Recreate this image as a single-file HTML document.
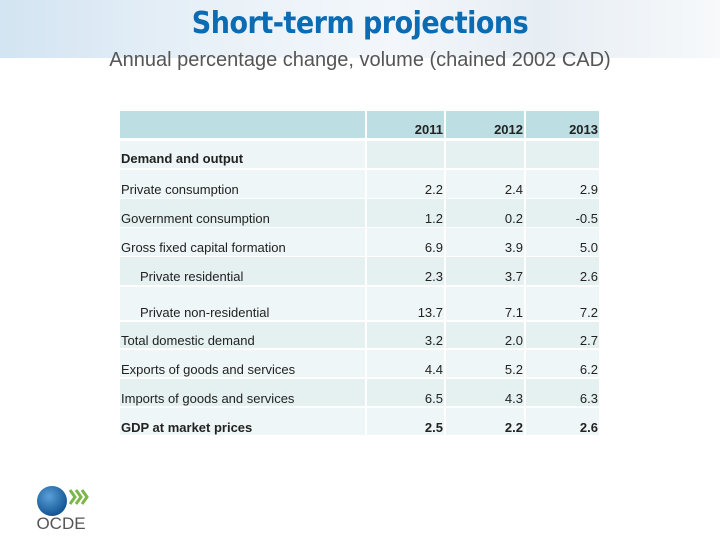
<!DOCTYPE html>
<html><head><meta charset="utf-8"><style>
body{margin:0;width:720px;height:540px;overflow:hidden;background:#fff;font-family:"Liberation Sans",sans-serif;position:relative}
.banner{position:absolute;left:0;top:0;width:720px;height:58px;background:linear-gradient(90deg,#d3e4f2 0%,#e9f1f8 30%,#f3f7fb 55%,#e6edf3 75%,#f7f9fb 100%)}
.title{position:absolute;left:0;width:720px;top:6px;text-align:center;font-size:30px;font-weight:bold;color:#0b6cb3;font-family:"DejaVu Sans Condensed","Liberation Sans Narrow","Liberation Sans",sans-serif;letter-spacing:-0.5px}
.sub{position:absolute;left:0;width:720px;top:49px;text-align:center;font-size:20px;color:#555}
.c{position:absolute;box-sizing:border-box;font-size:13px;color:#222;white-space:nowrap;display:flex;align-items:flex-end;line-height:14px}
</style></head><body>
<div class="banner"></div>
<div class="title">Short-term projections</div>
<div class="sub">Annual percentage change, volume (chained 2002 CAD)</div>
<div id="tbl"></div>
<svg style="position:absolute;left:34px;top:484px" width="56" height="50">
<defs><radialGradient id="g" cx="0.4" cy="0.35" r="0.7"><stop offset="0" stop-color="#5aa0d8"/><stop offset="1" stop-color="#0d4f8f"/></radialGradient></defs>
<circle cx="18" cy="17" r="15" fill="url(#g)"/>
<path d="M36 6 l5 7 -5 7 M42 6 l5 7 -5 7 M48 6 l5 7 -5 7" stroke="#7ab648" stroke-width="3" fill="none"/>
<text x="27" y="45" font-size="17" fill="#555" text-anchor="middle" font-family="Liberation Sans,sans-serif">OCDE</text>
</svg>
<script>
const years=["2011","2012","2013"];
const labels=["Demand and output","Private consumption","Government consumption","Gross fixed capital formation","Private residential","Private non-residential","Total domestic demand","Exports of goods and services","Imports of goods and services","GDP at market prices"];
const v2011=[null,"2.2","1.2","6.9","2.3","13.7","3.2","4.4","6.5","2.5"];
const v2012=[null,"2.4","0.2","3.9","3.7","7.1","2.0","5.2","4.3","2.2"];
const v2013=[null,"2.9","-0.5","5.0","2.6","7.2","2.7","6.2","6.3","2.6"];
const rowTops=[141,170,199,228,257,287,322,350,379,408];
const rowBots=[168,198,227,256,285,320,348,377,406,435];
const cols=[[120,365],[367,444],[446,524],[526,599]];
const tbl=document.getElementById('tbl');
function cell(x0,x1,y0,y1,bg,txt,align,bold,indent,pb,name){
 const d=document.createElement('div');d.className='c';
 
 
 d.style.left=x0+'px';d.style.top=y0+'px';d.style.width=(x1-x0)+'px';d.style.height=(y1-y0)+'px';
 d.style.background=bg;d.style.justifyContent=align==='right'?'flex-end':'flex-start';
 d.style.paddingLeft=(indent||1)+'px';d.style.paddingRight='1px';d.style.paddingBottom=pb+'px';
 if(bold)d.style.fontWeight='bold';
 d.textContent=txt||'';tbl.appendChild(d);
}
cols.forEach((c,i)=>cell(c[0],c[1],111,138,'#bddfe3',i?years[i-1]:'','right',true,0,1,i?'header-'+years[i-1]:'header-blank'));
const bold=[true,false,false,false,false,false,false,false,false,true];
const indentRows=[4,5];
labels.forEach((lab,r)=>{
 const bg=r%2===0?'#e5f0f1':'#eff6f7';
 const y0=rowTops[r],y1=rowBots[r];
 const pb=r>=5?0:1;
 cell(cols[0][0],cols[0][1],y0,y1,r===0?'#edf5f6':bg,lab,'left',bold[r],indentRows.includes(r)?20:1,r===0?2:pb,'row-label');
 [v2011,v2012,v2013].forEach((arr,k)=>{
  cell(cols[k+1][0],cols[k+1][1],y0,y1,bg,arr[r]||'','right',bold[r],0,pb,'value-'+years[k]);
 });
});
</script>
</body></html>
